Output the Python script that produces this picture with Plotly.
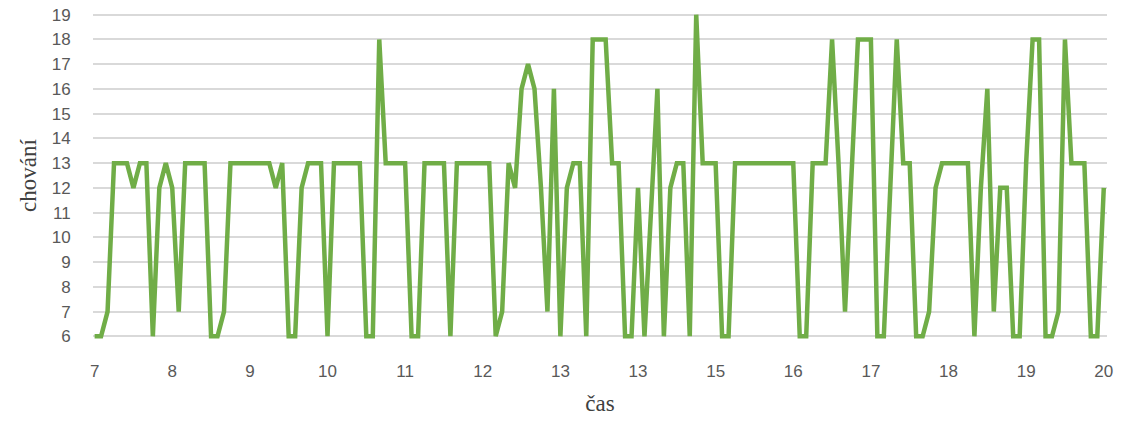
import plotly.graph_objects as go

# chování values, one per time step (12 steps per labelled hour)
chovani = [
    6, 6, 7, 13, 13, 13, 12, 13, 13, 6, 12, 13,
    12, 7, 13, 13, 13, 13, 6, 6, 7, 13, 13, 13,
    13, 13, 13, 13, 12, 13, 6, 6, 12, 13, 13, 13,
    6, 13, 13, 13, 13, 13, 6, 6, 18, 13, 13, 13,
    13, 6, 6, 13, 13, 13, 13, 6, 13, 13, 13, 13,
    13, 13, 6, 7, 13, 12, 16, 17, 16, 12, 7, 16,
    6, 12, 13, 13, 6, 18, 18, 18, 13, 13, 6, 6,
    12, 6, 11, 16, 6, 12, 13, 13, 6, 19, 13, 13,
    13, 6, 6, 13, 13, 13, 13, 13, 13, 13, 13, 13,
    13, 6, 6, 13, 13, 13, 18, 13, 7, 13, 18, 18,
    18, 6, 6, 12, 18, 13, 13, 6, 6, 7, 12, 13,
    13, 13, 13, 13, 6, 12, 16, 7, 12, 12, 6, 6,
    13, 18, 18, 6, 6, 7, 18, 13, 13, 13, 6, 6,
    12,
]
cas_labels = ["7", "8", "9", "10", "11", "12", "13", "13", "15", "16", "17", "18", "19", "20"]
y_ticks = list(range(6, 20))

steps = list(range(len(chovani)))
tick_pos = [i * 12 for i in range(len(cas_labels))]

fig = go.Figure()
fig.add_trace(
    go.Scatter(
        x=steps,
        y=chovani,
        mode="lines",
        line=dict(color="#70ad47", width=4.5),
        showlegend=False,
    )
)

fig.update_layout(
    width=1136,
    height=423,
    margin=dict(l=93, r=29, t=11, b=83),
    plot_bgcolor="white",
    paper_bgcolor="white",
    xaxis=dict(
        range=[-0.25, 156.5],
        automargin=False,
        tickmode="array",
        tickvals=tick_pos,
        ticktext=cas_labels,
        showgrid=False,
        zeroline=False,
        showline=False,
        ticks="outside",
        ticklen=16,
        tickcolor="rgba(0,0,0,0)",
        tickfont=dict(family="Liberation Sans", size=17, color="#595959"),
        title=dict(text="čas", font=dict(family="Liberation Serif", size=23, color="#404040"), standoff=14),
    ),
    yaxis=dict(
        range=[5.85, 19.15],
        automargin=False,
        tickmode="array",
        tickvals=y_ticks,
        showgrid=True,
        gridcolor="#d9d9d9",
        gridwidth=1.5,
        zeroline=False,
        showline=False,
        ticks="outside",
        ticklen=18,
        tickcolor="rgba(0,0,0,0)",
        tickfont=dict(family="Liberation Sans", size=17, color="#595959"),
        title=dict(text="chování", font=dict(family="Liberation Serif", size=23, color="#404040"), standoff=8),
    ),
)

# drop the browser's default body margin so the chart sits at the page corner
fig.write_html(
    "out.html",
    config={"displayModeBar": False},
    post_script="document.body.style.margin = '0';",
)
